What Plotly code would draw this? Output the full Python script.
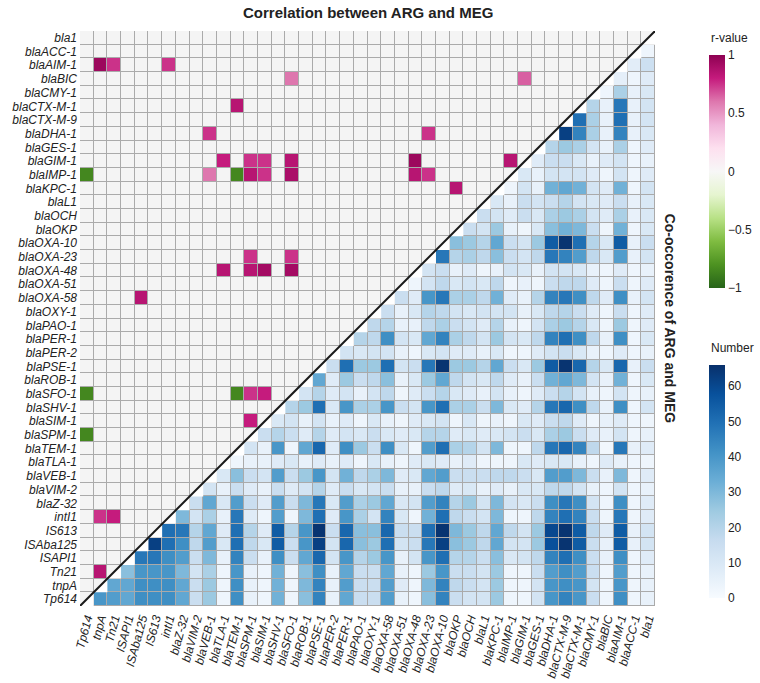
import plotly.graph_objects as go

genes = ["bla1", "blaACC-1", "blaAIM-1", "blaBIC", "blaCMY-1", "blaCTX-M-1", "blaCTX-M-9",
         "blaDHA-1", "blaGES-1", "blaGIM-1", "blaIMP-1", "blaKPC-1", "blaL1", "blaOCH", "blaOKP",
         "blaOXA-10", "blaOXA-23", "blaOXA-48", "blaOXA-51", "blaOXA-58", "blaOXY-1", "blaPAO-1",
         "blaPER-1", "blaPER-2", "blaPSE-1", "blaROB-1", "blaSFO-1", "blaSHV-1", "blaSIM-1",
         "blaSPM-1", "blaTEM-1", "blaTLA-1", "blaVEB-1", "blaVIM-2", "blaZ-32", "intI1", "IS613",
         "ISAba125", "ISAPI1", "Tn21", "tnpA", "Tp614"]
col_genes = genes[::-1]

# r-values (upper-left triangle): (row gene, column gene, r)
r_values = [
    ("blaAIM-1", "tnpA", 0.95), ("blaAIM-1", "Tn21", 0.75), ("blaAIM-1", "intI1", 0.75),
    ("blaBIC", "blaSFO-1", 0.6), ("blaBIC", "blaGIM-1", 0.65),
    ("blaCTX-M-1", "blaTEM-1", 0.85),
    ("blaDHA-1", "blaVEB-1", 0.75), ("blaDHA-1", "blaOXA-23", 0.75),
    ("blaGIM-1", "blaTLA-1", 0.8), ("blaGIM-1", "blaSPM-1", 0.75), ("blaGIM-1", "blaSIM-1", 0.75),
    ("blaGIM-1", "blaSFO-1", 0.85), ("blaGIM-1", "blaOXA-48", 0.95), ("blaGIM-1", "blaIMP-1", 0.85),
    ("blaIMP-1", "Tp614", -0.85), ("blaIMP-1", "blaVEB-1", 0.6), ("blaIMP-1", "blaTEM-1", -0.85),
    ("blaIMP-1", "blaSPM-1", 0.85), ("blaIMP-1", "blaSIM-1", 0.75), ("blaIMP-1", "blaSFO-1", 0.9),
    ("blaIMP-1", "blaOXA-48", 0.85), ("blaIMP-1", "blaOXA-23", 0.75),
    ("blaKPC-1", "blaOKP", 0.85),
    ("blaOXA-23", "blaSPM-1", 0.75), ("blaOXA-23", "blaSFO-1", 0.75),
    ("blaOXA-48", "blaTLA-1", 0.85), ("blaOXA-48", "blaSPM-1", 0.85), ("blaOXA-48", "blaSIM-1", 0.92),
    ("blaOXA-48", "blaSFO-1", 0.92),
    ("blaOXA-58", "ISAba125", 0.85),
    ("blaSFO-1", "Tp614", -0.85), ("blaSFO-1", "blaTEM-1", -0.85), ("blaSFO-1", "blaSPM-1", 0.75),
    ("blaSFO-1", "blaSIM-1", 0.8),
    ("blaSIM-1", "blaSPM-1", 0.8),
    ("blaSPM-1", "Tp614", -0.85),
    ("intI1", "tnpA", 0.75), ("intI1", "Tn21", 0.8),
    ("Tn21", "tnpA", 0.85),
]

# Co-occurrence numbers (lower-right triangle); row k lists columns 42-k .. 41 (left to right)
number_rows = [
    [],
    [3],
    [7, 14],
    [6, 3, 8],
    [3, 22, 5, 10],
    [20, 5, 48, 5, 12],
    [50, 22, 5, 50, 5, 12],
    [62, 45, 22, 5, 45, 5, 10],
    [20, 25, 22, 12, 5, 22, 3, 8],
    [8, 15, 15, 10, 5, 8, 12, 3, 5],
    [10, 5, 12, 12, 12, 8, 3, 12, 3, 8],
    [3, 12, 5, 32, 35, 32, 12, 8, 32, 3, 12],
    [10, 5, 15, 12, 15, 20, 12, 10, 8, 15, 5, 10],
    [15, 12, 8, 15, 10, 22, 25, 22, 12, 8, 22, 5, 10],
    [15, 12, 25, 5, 3, 10, 28, 32, 30, 15, 3, 32, 3, 10],
    [28, 25, 20, 35, 15, 12, 25, 55, 65, 50, 20, 10, 55, 5, 15],
    [48, 20, 22, 18, 28, 15, 12, 18, 48, 45, 38, 18, 10, 38, 5, 12],
    [12, 15, 5, 8, 3, 5, 12, 10, 5, 12, 12, 10, 5, 3, 8, 3, 5],
    [3, 12, 18, 10, 12, 10, 18, 3, 5, 3, 15, 18, 18, 8, 3, 15, 3, 8],
    [15, 8, 40, 48, 22, 22, 18, 32, 8, 5, 20, 45, 48, 42, 18, 8, 42, 5, 12],
    [15, 5, 10, 20, 18, 12, 10, 12, 12, 12, 5, 10, 18, 20, 15, 8, 3, 15, 3, 8],
    [18, 20, 5, 5, 18, 22, 15, 12, 8, 20, 5, 3, 12, 22, 25, 20, 10, 3, 25, 3, 8],
    [20, 18, 42, 12, 10, 35, 45, 22, 18, 12, 25, 12, 10, 18, 45, 50, 42, 18, 5, 42, 3, 10],
    [12, 10, 12, 12, 5, 3, 10, 12, 8, 8, 5, 10, 3, 3, 8, 12, 15, 10, 5, 3, 8, 3, 5],
    [15, 50, 25, 25, 50, 12, 15, 48, 65, 25, 25, 20, 35, 15, 10, 25, 55, 65, 52, 20, 10, 52, 5, 15],
    [35, 8, 25, 15, 18, 28, 5, 10, 25, 35, 18, 12, 10, 18, 8, 5, 15, 32, 35, 30, 12, 5, 32, 3, 10],
    [12, 20, 8, 12, 5, 12, 18, 3, 8, 15, 20, 10, 8, 5, 12, 5, 3, 8, 15, 20, 12, 5, 3, 12, 3, 5],
    [20, 25, 50, 10, 40, 22, 22, 40, 15, 12, 40, 50, 22, 22, 15, 30, 10, 8, 20, 48, 52, 42, 18, 5, 42, 3, 12],
    [10, 12, 5, 12, 5, 8, 3, 10, 5, 3, 8, 10, 12, 3, 10, 3, 5, 3, 10, 8, 15, 18, 8, 3, 5, 8, 3, 3],
    [15, 20, 15, 8, 20, 8, 12, 10, 15, 10, 8, 10, 20, 20, 8, 10, 8, 10, 12, 15, 10, 22, 25, 15, 8, 5, 12, 3, 5],
    [12, 5, 40, 3, 35, 52, 8, 42, 25, 15, 42, 10, 3, 38, 50, 22, 20, 12, 30, 3, 3, 18, 48, 52, 45, 18, 2, 48, 5, 8],
    [3, 5, 5, 8, 10, 5, 8, 5, 8, 3, 10, 5, 3, 8, 10, 8, 5, 8, 3, 3, 3, 10, 8, 10, 10, 5, 3, 8, 5, 3, 3],
    [10, 28, 15, 12, 38, 15, 25, 40, 12, 32, 18, 22, 30, 8, 10, 35, 38, 15, 15, 15, 18, 18, 15, 10, 38, 38, 30, 15, 5, 30, 3, 8],
    [12, 5, 15, 8, 5, 15, 8, 12, 20, 8, 15, 10, 12, 15, 5, 5, 15, 18, 8, 10, 5, 8, 5, 10, 10, 18, 18, 12, 5, 3, 12, 3, 5],
    [15, 35, 10, 38, 15, 8, 38, 15, 30, 48, 10, 38, 22, 25, 35, 10, 12, 38, 45, 20, 25, 12, 30, 12, 10, 15, 42, 48, 42, 12, 3, 42, 3, 8],
    [30, 12, 22, 5, 48, 8, 3, 38, 3, 30, 50, 8, 40, 22, 12, 45, 10, 3, 32, 50, 18, 15, 12, 30, 3, 3, 18, 45, 50, 45, 15, 3, 48, 3, 8],
    [50, 48, 20, 35, 8, 50, 20, 8, 55, 20, 40, 65, 15, 52, 28, 28, 52, 15, 15, 50, 65, 30, 25, 18, 35, 18, 12, 25, 60, 65, 55, 18, 8, 55, 5, 12],
    [62, 50, 42, 18, 38, 10, 50, 18, 10, 55, 15, 40, 62, 12, 52, 28, 25, 50, 12, 15, 48, 62, 28, 25, 18, 35, 12, 12, 25, 58, 65, 55, 15, 5, 55, 5, 12],
    [48, 48, 42, 38, 15, 30, 5, 45, 15, 5, 42, 15, 35, 52, 12, 40, 20, 25, 40, 5, 12, 40, 50, 20, 20, 15, 28, 10, 12, 18, 45, 50, 42, 15, 5, 42, 3, 8],
    [28, 40, 40, 40, 30, 12, 22, 3, 40, 5, 3, 32, 3, 28, 42, 5, 35, 15, 15, 35, 5, 3, 25, 40, 15, 15, 12, 25, 3, 3, 15, 38, 42, 38, 15, 3, 38, 3, 5],
    [35, 35, 42, 42, 42, 35, 15, 25, 3, 42, 5, 3, 32, 3, 30, 45, 5, 38, 15, 15, 38, 8, 3, 30, 45, 18, 15, 12, 25, 3, 3, 12, 40, 42, 40, 12, 3, 40, 3, 5],
    [40, 38, 35, 42, 42, 42, 35, 15, 25, 3, 42, 5, 3, 32, 3, 28, 45, 5, 35, 15, 15, 38, 5, 3, 28, 45, 15, 12, 12, 25, 3, 3, 12, 40, 45, 40, 15, 3, 42, 3, 5],
]

r_ticks = [-1, -0.5, 0, 0.5, 1]
r_tick_text = ["\u22121", "\u22120.5", "0", "0.5", "1"]
n_ticks = [0, 10, 20, 30, 40, 50, 60]

n = len(genes)
idx = list(range(n))

z_bg = [[1 if i + j <= n - 1 else None for j in range(n)] for i in range(n)]
z_num = [[None] * n for _ in range(n)]
for i, vals in enumerate(number_rows):
    for k, v in enumerate(vals):
        j = n - i + k
        if 0 <= j < n:
            z_num[i][j] = v
z_r = [[None] * n for _ in range(n)]
for rg, cg, v in r_values:
    z_r[genes.index(rg)][col_genes.index(cg)] = v

blues = [[0, "#f7fbff"], [0.125, "#deebf7"], [0.25, "#c6dbef"], [0.375, "#9ecae1"],
         [0.5, "#6baed6"], [0.625, "#4292c6"], [0.75, "#2171b5"], [0.875, "#08519c"], [1, "#08306b"]]
piyg = [[0, "#276419"], [0.1, "#4d9221"], [0.2, "#7fbc41"], [0.3, "#b8e186"], [0.4, "#e6f5d0"],
        [0.5, "#f7f7f7"], [0.6, "#fde0ef"], [0.7, "#f1b6da"], [0.8, "#de77ae"], [0.9, "#c51b7d"],
        [1, "#8e0152"]]

FONT = "Arial, Liberation Sans, sans-serif"
PLOT_T, PLOT_H = 31, 575  # plot area top / height in px


def py(px):
    return 1 - (px - PLOT_T) / PLOT_H


fig = go.Figure()
fig.add_trace(go.Heatmap(z=z_bg, x=idx, y=idx, colorscale=[[0, "#f4f4f4"], [1, "#f4f4f4"]],
                         showscale=False, xgap=1, ygap=1, hoverinfo="skip"))
fig.add_trace(go.Heatmap(
    z=z_num, x=idx, y=idx, colorscale=blues, zmin=0, zmax=66, xgap=1, ygap=1,
    colorbar=dict(x=1.094, xanchor="left", y=py(365), yanchor="top", ypad=0, xpad=0,
                  len=233, lenmode="pixels", thickness=16, thicknessmode="pixels",
                  tickvals=n_ticks, ticks="", outlinewidth=0,
                  tickfont=dict(size=12, color="#222", family=FONT))))
fig.add_trace(go.Heatmap(
    z=z_r, x=idx, y=idx, colorscale=piyg, zmin=-1, zmax=1, xgap=1, ygap=1,
    colorbar=dict(x=1.094, xanchor="left", y=py(55), yanchor="top", ypad=0, xpad=0,
                  len=233, lenmode="pixels", thickness=16, thicknessmode="pixels",
                  tickvals=r_ticks, ticktext=r_tick_text, ticks="", outlinewidth=0,
                  tickfont=dict(size=12, color="#222", family=FONT))))

# white lower halves of the diagonal cells
path = f"M -0.5 {n - 0.5} L {n - 0.5} -0.5"
for k in range(n):
    path += f" L {n - 0.5 - k} {k + 0.5} L {n - 1.5 - k} {k + 0.5}"
path += " Z"
fig.add_shape(type="path", path=path, xref="x", yref="y", fillcolor="white", line=dict(width=0))
fig.add_shape(type="line", x0=-0.5, y0=n - 0.5, x1=n - 0.5, y1=-0.5, xref="x", yref="y",
              line=dict(color="#1a1a1a", width=2))

fig.update_xaxes(range=[-0.5, n - 0.5], tickvals=idx, ticktext=[f"<i>{g}</i>" for g in col_genes],
                 tickangle=-75, showgrid=False, zeroline=False, showline=False, ticks="",
                 automargin=False, ticklabelstandoff=2,
                 tickfont=dict(size=12, color="#222", family=FONT))
fig.update_yaxes(range=[n - 0.5, -0.5], tickvals=idx, ticktext=[f"<i>{g}</i>" for g in genes],
                 showgrid=False, zeroline=False, showline=False, ticks="",
                 automargin=False, ticklabelstandoff=2,
                 tickfont=dict(size=12, color="#222", family=FONT))

fig.add_annotation(text="<b>Correlation between ARG and MEG</b>", xref="paper", yref="paper",
                   x=0.5, y=py(12), showarrow=False, yanchor="middle",
                   font=dict(size=15, color="#222", family=FONT))
fig.add_annotation(text="<b>Co-occorence of ARG and MEG</b>", xref="paper", yref="paper",
                   x=1.045, y=0.5, showarrow=False, textangle=90,
                   font=dict(size=14, color="#222", family=FONT))
fig.add_annotation(text="r-value", xref="paper", yref="paper", x=1.094, y=py(38),
                   xanchor="left", yanchor="middle", showarrow=False,
                   font=dict(size=12, color="#222", family=FONT))
fig.add_annotation(text="Number", xref="paper", yref="paper", x=1.094, y=py(348),
                   xanchor="left", yanchor="middle", showarrow=False,
                   font=dict(size=12, color="#222", family=FONT))

fig.update_layout(width=760, height=683, margin=dict(l=80, r=105, t=31, b=77, autoexpand=False),
                  plot_bgcolor="#aaaaaa", paper_bgcolor="white",
                  font=dict(family=FONT, color="#222"))
fig.write_html("out.html", config={"displayModeBar": False},
               post_script="document.body.style.margin='0px';")
